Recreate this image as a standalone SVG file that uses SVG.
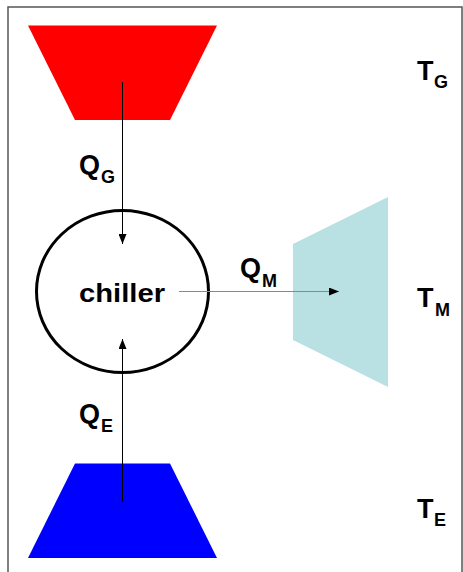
<svg xmlns="http://www.w3.org/2000/svg" width="463" height="572" viewBox="0 0 463 572">
<style>
.lbl{font-family:"Liberation Sans",Arial,sans-serif;font-weight:bold;fill:#000}
.big{font-size:27px}
.sub{font-size:18px}
.conn{stroke:#000;stroke-width:1;fill:none}
</style>
<defs>
<marker id="ah" markerWidth="10" markerHeight="8" refX="10" refY="4" orient="auto" markerUnits="userSpaceOnUse">
<path d="M0,0 L10,4 L0,8 Z" fill="#000"/>
</marker>
</defs>
<rect x="0" y="0" width="463" height="572" fill="#fff"/>
<rect x="8" y="7" width="454" height="575" fill="none" stroke="#555" stroke-width="1.5"/>
<g id="generator">
<polygon points="28,25.5 217,25.5 170,120 75,120" fill="#ff0000"/>
</g>
<g id="evaporator">
<polygon points="75,463.5 170,463.5 217,558 28,558" fill="#0000ff"/>
</g>
<g id="medium">
<polygon points="293,244 388,197 388,387 293,340" fill="#b9e0e3"/>
</g>
<g id="chiller">
<ellipse cx="122.5" cy="291.5" rx="86" ry="81" fill="none" stroke="#000" stroke-width="3"/>
<text class="lbl" x="79" y="302" font-size="25" textLength="86" lengthAdjust="spacingAndGlyphs">chiller</text>
</g>
<g id="connectors">
<line class="conn" x1="122.5" y1="82" x2="122.5" y2="244" marker-end="url(#ah)"/>
<line class="conn" x1="122.5" y1="502" x2="122.5" y2="339" marker-end="url(#ah)"/>
<line x1="179" y1="291.5" x2="339" y2="291.5" stroke="#888" stroke-width="1" marker-end="url(#ah)"/>
</g>
<g id="labels">
<text class="lbl big" x="79" y="174">Q<tspan class="sub" x="101" y="183">G</tspan></text>
<text class="lbl big" x="79" y="423">Q<tspan class="sub" x="101" y="432">E</tspan></text>
<text class="lbl big" x="240" y="277">Q<tspan class="sub" x="262" y="287">M</tspan></text>
<text class="lbl big" x="417" y="80">T<tspan class="sub" x="434" y="88">G</tspan></text>
<text class="lbl big" x="417" y="307">T<tspan class="sub" x="435" y="316">M</tspan></text>
<text class="lbl big" x="417" y="518">T<tspan class="sub" x="434" y="526">E</tspan></text>
</g>
</svg>
